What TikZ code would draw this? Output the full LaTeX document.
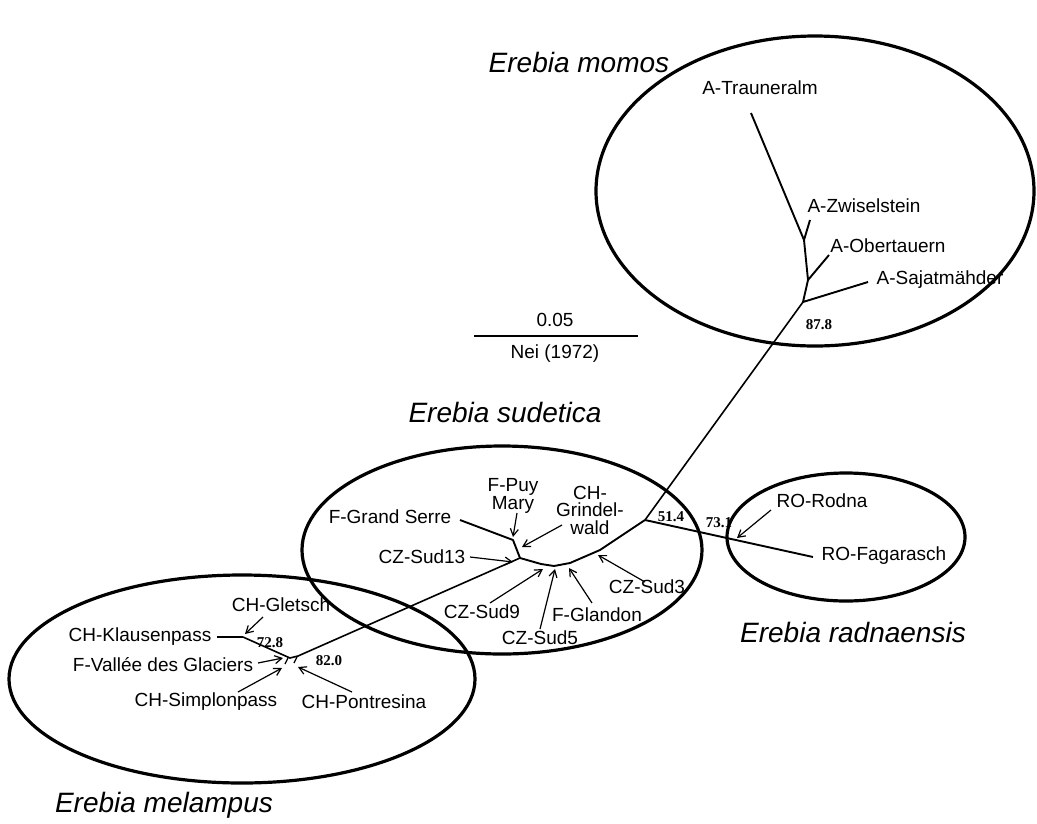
\documentclass[tikz,border=0pt]{standalone}
\usepackage{fontspec}
\setmainfont{Liberation Sans}
\newfontfamily\numfont{Liberation Serif}
\usetikzlibrary{arrows.meta}
\begin{document}
\begin{tikzpicture}[x=1pt,y=-1pt,
  lab/.style={inner sep=0pt,font=\fontsize{19}{17.5}\selectfont,align=center},
  title/.style={inner sep=0pt,font=\fontsize{28}{30}\selectfont\itshape},
  boot/.style={inner sep=0pt,font=\fontsize{15}{15}\selectfont\numfont\bfseries},
  branch/.style={line width=1.9pt,line join=round},
  arr/.style={line width=1.2pt,-{Straight Barb[length=7pt,width=8pt,line width=1.2pt]}},
  group/.style={line width=3.2pt}]
\useasboundingbox (0,0) rectangle (1037,823);
\fill[white] (0,0) rectangle (1037,823);
% group ellipses
\draw[group] (815,191) ellipse [x radius=219, y radius=155];
\draw[group] (502,550) ellipse [x radius=200, y radius=104];
\draw[group] (846,537) ellipse [x radius=119, y radius=64];
\draw[group] (242,679) ellipse [x radius=233, y radius=104];
% titles
\node[title] (tmom) at (579,62) {Erebia momos};
\node[title] (tsud) at (505,412) {Erebia sudetica};
\node[title] (trad) at (853,632) {Erebia radnaensis};
\node[title] (tmel) at (164,805) {Erebia melampus};
% scale bar
\coordinate (sbl) at (474,336);
\coordinate (sbr) at (638,336);
\draw[line width=2pt] (sbl) -- (sbr);
\node[lab] (sbv) at (555,320) {0.05};
\node[lab] (sbn) at (555,354) {Nei (1972)};
% tree vertices
\coordinate (tTr) at (751,113);
\coordinate (jZw) at (804,240);
\coordinate (tZw) at (810,220);
\coordinate (jOb) at (808,280);
\coordinate (tOb) at (829,255);
\coordinate (jSa) at (803,302);
\coordinate (tSa) at (868,282);
\coordinate (j51) at (645,520);
\coordinate (tFa) at (813,557);
\coordinate (n3) at (600,550);
\coordinate (nG) at (570,563);
\coordinate (n5) at (554,566);
\coordinate (n9) at (541,564);
\coordinate (jS) at (520,558);
\coordinate (jGS) at (513,540);
\coordinate (tGS) at (460,520);
\coordinate (j82) at (290,658);
\coordinate (j82b) at (298,656);
\coordinate (j72) at (243,637);
\coordinate (tKl) at (217,637);
\coordinate (k1a) at (285,664);
\coordinate (k1b) at (288,658);
\coordinate (k2a) at (294,663);
\coordinate (k2b) at (297,657);
% branches
\draw[branch] (tTr) -- (jZw) -- (tZw);
\draw[branch] (jZw) -- (jOb) -- (tOb);
\draw[branch] (jOb) -- (jSa) -- (tSa);
\draw[line width=1.6pt] (jSa) -- (j51);
\draw[branch] (j51) -- (tFa);
\draw[branch] (j51) -- (n3) -- (nG) -- (n5) -- (n9) -- (jS);
\draw[branch] (tGS) -- (jGS) -- (jS);
\draw[line width=1.6pt] (jS) -- (j82b) -- (j82) -- (j72);
\draw[line width=2.8pt] (j72) -- (tKl);
\draw[line width=1.2pt] (k1a) -- (k1b);
\draw[line width=1.2pt] (k2a) -- (k2b);
% momos labels
\node[lab] (trau) at (760,88) {A-Trauneralm};
\node[lab] (zwis) at (864,206) {A-Zwiselstein};
\node[lab] (ober) at (888,246) {A-Obertauern};
\node[lab] (saja) at (940,280) {A-Sajatmähder};
\node[boot] (b878) at (819,325) {87.8};
% radnaensis labels
\node[lab] (roro) at (822,501) {RO-Rodna};
\node[lab] (rofa) at (884,556) {RO-Fagarasch};
\node[boot] (b514) at (671,517) {51.4};
\node[boot] (b731) at (719,523) {73.1};
\coordinate (aRo) at (771,510);
\coordinate (hRo) at (737,538);
\draw[arr] (aRo) -- (hRo);
% sudetica labels
\node[lab] (fgs) at (390,517) {F-Grand Serre};
\node[lab] (fpuy) at (513,496) {F-Puy\\Mary};
\node[lab] (chg) at (590,510) {CH-\\Grindel-\\wald};
\node[lab] (s13) at (422,557) {CZ-Sud13};
\node[lab] (s9) at (482,612) {CZ-Sud9};
\node[lab] (s5) at (540,638) {CZ-Sud5};
\node[lab] (fgl) at (597,615) {F-Glandon};
\node[lab] (s3) at (647,587) {CZ-Sud3};
\coordinate (aPuy) at (517,513);
\coordinate (hPuy) at (513,537);
\coordinate (aGr) at (562,525);
\coordinate (hGr) at (522,547);
\coordinate (a13) at (470,557);
\coordinate (h13) at (513,562);
\coordinate (a9) at (490,603);
\coordinate (h9) at (543,569);
\coordinate (a5) at (540,629);
\coordinate (h5) at (555,569);
\coordinate (aGl) at (592,603);
\coordinate (hGl) at (569,568);
\coordinate (a3) at (645,582);
\coordinate (h3) at (598,555);
\draw[arr] (aPuy) -- (hPuy);
\draw[arr] (aGr) -- (hGr);
\draw[arr] (a13) -- (h13);
\draw[arr] (a9) -- (h9);
\draw[arr] (a5) -- (h5);
\draw[arr] (aGl) -- (hGl);
\draw[arr] (a3) -- (h3);
% melampus labels
\node[lab] (gle) at (281,605) {CH-Gletsch};
\node[lab] (kla) at (140,637) {CH-Klausenpass};
\node[lab] (val) at (163,665) {F-Vallée des Glaciers};
\node[lab] (sim) at (206,702) {CH-Simplonpass};
\node[lab] (pon) at (364,702) {CH-Pontresina};
\node[boot] (b728) at (270,643) {72.8};
\node[boot] (b820) at (329,661) {82.0};
\coordinate (aGle) at (263,617);
\coordinate (hGle) at (245,634);
\coordinate (aVal) at (258,663);
\coordinate (hVal) at (283,658);
\coordinate (aSim) at (238,692);
\coordinate (hSim) at (282,668);
\coordinate (aPon) at (352,692);
\coordinate (hPon) at (298,667);
\draw[arr] (aGle) -- (hGle);
\draw[arr] (aVal) -- (hVal);
\draw[arr] (aSim) -- (hSim);
\draw[arr] (aPon) -- (hPon);
\end{tikzpicture}
\end{document}
